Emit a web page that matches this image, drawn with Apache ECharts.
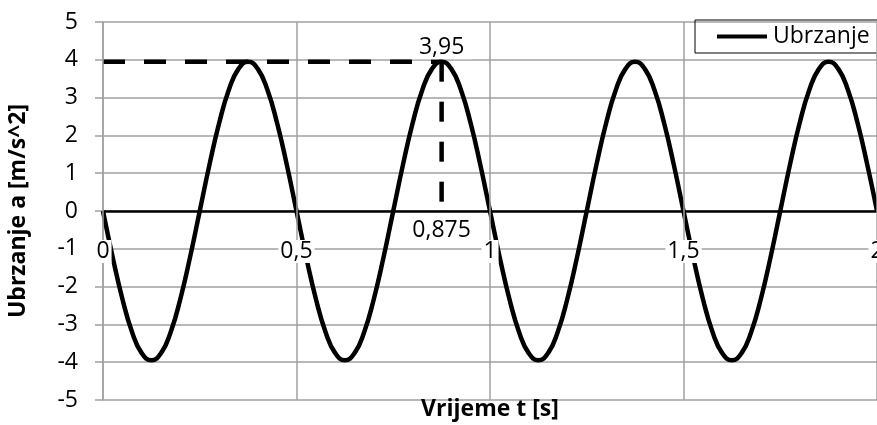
<!DOCTYPE html>
<html><head><meta charset="utf-8">
<script src="https://cdn.jsdelivr.net/npm/echarts@6/dist/echarts.min.js"></script>
<style>html,body{margin:0;padding:0;background:#fff}#c{width:877px;height:425px}</style>
</head><body><div id="c"></div>
<script>
// time (s)
var times = [0,0.025,0.05,0.075,0.1,0.125,0.15,0.175,0.2,0.225,
0.25,0.275,0.3,0.325,0.35,0.375,0.4,0.425,0.45,0.475,
0.5,0.525,0.55,0.575,0.6,0.625,0.65,0.675,0.7,0.725,
0.75,0.775,0.8,0.825,0.85,0.875,0.9,0.925,0.95,0.975,
1,1.025,1.05,1.075,1.1,1.125,1.15,1.175,1.2,1.225,
1.25,1.275,1.3,1.325,1.35,1.375,1.4,1.425,1.45,1.475,
1.5,1.525,1.55,1.575,1.6,1.625,1.65,1.675,1.7,1.725,
1.75,1.775,1.8,1.825,1.85,1.875,1.9,1.925,1.95,1.975,2];
// acceleration (m/s^2)
var accel = [0,-1.22,-2.32,-3.20,-3.76,-3.95,-3.76,-3.20,-2.32,-1.22,
0,1.22,2.32,3.20,3.76,3.95,3.76,3.20,2.32,1.22,
0,-1.22,-2.32,-3.20,-3.76,-3.95,-3.76,-3.20,-2.32,-1.22,
0,1.22,2.32,3.20,3.76,3.95,3.76,3.20,2.32,1.22,
0,-1.22,-2.32,-3.20,-3.76,-3.95,-3.76,-3.20,-2.32,-1.22,
0,1.22,2.32,3.20,3.76,3.95,3.76,3.20,2.32,1.22,
0,-1.22,-2.32,-3.20,-3.76,-3.95,-3.76,-3.20,-2.32,-1.22,
0,1.22,2.32,3.20,3.76,3.95,3.76,3.20,2.32,1.22,0];
var seriesName = 'Ubrzanje';
var xTitle = 'Vrijeme t [s]';
var yTitle = 'Ubrzanje a [m/s^2]';
// marked peak
var peakT = 0.875;
var peakA = 3.95;
var xMin = 0, xMax = 2, xStep = 0.5;
var yMin = -5, yMax = 5, yStep = 1;

function fmt(v){ return String(v).replace('.', ','); }

var FONT = 'Open Sans';
var FS = 23;
var GRID = '#a0a0a0';
var curve = times.map(function(t,i){ return [t, accel[i]]; });

var chart = echarts.init(document.getElementById('c'), null, {renderer:'canvas'});
chart.setOption({
  animation:false,
  textStyle:{fontFamily:FONT},
  title:{
    text:xTitle, left:490, textAlign:'center', top:398, padding:0,
    textStyle:{fontFamily:FONT,fontSize:FS,fontWeight:'bold',color:'#000'}
  },
  grid:{left:103,right:0,top:22,bottom:25,containLabel:false,outerBoundsMode:'none'},
  legend:{
    show:true, left:695, top:20, orient:'horizontal',
    borderColor:'#000', borderWidth:1, padding:[5,40,5,22],
    itemWidth:50, itemHeight:4, itemGap:10,
    textStyle:{fontFamily:FONT,fontSize:FS,color:'#000',padding:[0,0,0,1]},
    data:[{name:seriesName, icon:'rect'}]
  },
  xAxis:{
    type:'value', min:xMin, max:xMax, interval:xStep, position:'bottom',
    axisLine:{show:false,onZero:false},
    axisTick:{show:false},
    splitLine:{show:true,lineStyle:{color:GRID,width:1.5}},
    axisLabel:{show:true,margin:-160,color:'#000',fontSize:FS,fontFamily:FONT,
      backgroundColor:'#fff',padding:[0,2],formatter:fmt,showMaxLabel:true,showMinLabel:true},
    z:10
  },
  yAxis:{
    type:'value', min:yMin, max:yMax, interval:yStep,
    axisLine:{show:true,lineStyle:{color:GRID,width:1.5}},
    axisTick:{show:true,length:8,lineStyle:{color:GRID,width:1.5}},
    splitLine:{show:true,lineStyle:{color:GRID,width:1.5}},
    axisLabel:{margin:25,color:'#000',fontSize:FS,fontFamily:FONT},
    name:yTitle, nameLocation:'middle', nameGap:73, nameRotate:90,
    nameTextStyle:{fontFamily:FONT,fontSize:FS,fontWeight:'bold',color:'#000'}
  },
  series:[
    {
      name:'hdash', type:'line', data:[[xMin,peakA],[peakT,peakA]],
      showSymbol:false, symbol:'none', silent:true, z:2,
      lineStyle:{color:'#000',width:4.5,type:[22,19]}
    },
    {
      name:'vdash', type:'line', silent:true, z:2,
      symbol:'circle', symbolSize:1, showSymbol:true,
      itemStyle:{color:'#000'},
      lineStyle:{color:'#000',width:4.5,type:[20,20]},
      data:[
        {value:[peakT,peakA], label:{show:true,position:'top',distance:2,formatter:fmt(peakA),
          color:'#000',fontSize:FS,fontFamily:FONT,backgroundColor:'#fff',padding:[10,8,0,8]}},
        {value:[peakT,0], label:{show:true,position:'bottom',distance:5,formatter:fmt(peakT),
          color:'#000',fontSize:FS,fontFamily:FONT,backgroundColor:'#fff',padding:[2,6,1,6]}}
      ]
    },
    {
      name:seriesName, type:'line', data:curve, smooth:true,
      showSymbol:false, symbol:'none', z:3,
      lineStyle:{color:'#000',width:4.5},
      itemStyle:{color:'#000'},
      markLine:{
        silent:true, symbol:['none','none'], label:{show:false}, animation:false,
        lineStyle:{color:'#000',width:2.5,type:'solid'},
        data:[{yAxis:0}]
      }
    }
  ]
});
</script></body></html>
